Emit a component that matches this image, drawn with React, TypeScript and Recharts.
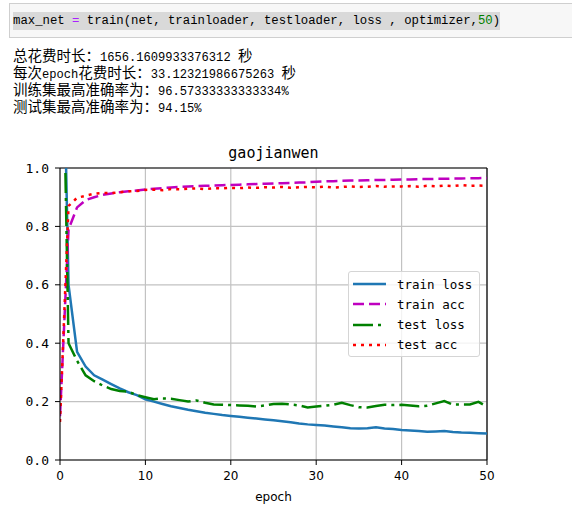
import React from 'react';
import { LineChart, Line, XAxis, YAxis, CartesianGrid, ReferenceLine } from 'recharts';

document.body.style.margin = '0';

const epochs = [
  0, 1, 2, 3, 4, 5, 6, 7, 8, 9, 10, 11, 12, 13, 14, 15, 16, 17, 18, 19, 20, 21, 22, 23, 24, 25,
  26, 27, 28, 29, 30, 31, 32, 33, 34, 35, 36, 37, 38, 39, 40, 41, 42, 43, 44, 45, 46, 47, 48, 49, 50,
];

const trainLoss = [
  2.0, 0.6, 0.37, 0.32, 0.29, 0.275, 0.26, 0.245, 0.232, 0.222, 0.208, 0.2, 0.192, 0.184, 0.178,
  0.172, 0.167, 0.162, 0.158, 0.154, 0.151, 0.148, 0.145, 0.142, 0.139, 0.136, 0.133, 0.129, 0.125,
  0.122, 0.12, 0.118, 0.115, 0.112, 0.109, 0.108, 0.109, 0.112, 0.108, 0.106, 0.103, 0.101, 0.099,
  0.097, 0.098, 0.099, 0.096, 0.094, 0.093, 0.092, 0.091,
];

const trainAcc = [
  0.15, 0.79, 0.865, 0.89, 0.9, 0.908, 0.913, 0.917, 0.92, 0.923, 0.926, 0.929, 0.931, 0.933, 0.935,
  0.937, 0.938, 0.939, 0.94, 0.941, 0.942, 0.943, 0.944, 0.945, 0.946, 0.947, 0.948, 0.949, 0.95,
  0.951, 0.953, 0.954, 0.955, 0.956, 0.957, 0.957, 0.958, 0.959, 0.959, 0.96, 0.961, 0.961, 0.962,
  0.962, 0.963, 0.963, 0.964, 0.964, 0.965, 0.965, 0.966,
];

const testLoss = [
  2.0, 0.4, 0.34, 0.29, 0.27, 0.255, 0.243, 0.236, 0.234, 0.222, 0.215, 0.208, 0.211, 0.21, 0.205,
  0.2, 0.204, 0.196, 0.19, 0.189, 0.188, 0.187, 0.186, 0.183, 0.187, 0.192, 0.193, 0.19, 0.187,
  0.18, 0.183, 0.186, 0.189, 0.196, 0.188, 0.181, 0.18, 0.185, 0.189, 0.188, 0.189, 0.187, 0.184,
  0.186, 0.194, 0.202, 0.19, 0.19, 0.19, 0.199, 0.183,
];

const testAcc = [
  0.13, 0.87, 0.898, 0.905, 0.912, 0.915, 0.914, 0.917, 0.92, 0.921, 0.925, 0.926, 0.924, 0.928,
  0.927, 0.929, 0.93, 0.928, 0.931, 0.93, 0.932, 0.931, 0.933, 0.932, 0.934, 0.933, 0.935, 0.932,
  0.934, 0.935, 0.934, 0.936, 0.933, 0.935, 0.937, 0.935, 0.936, 0.938, 0.936, 0.937, 0.937, 0.938,
  0.936, 0.939, 0.937, 0.94, 0.938, 0.9415, 0.939, 0.94, 0.939,
];

const xTicks = [0, 10, 20, 30, 40, 50];
const yTicks = [0, 0.2, 0.4, 0.6, 0.8, 1.0];

const codeLine = 'max_net = train(net, trainloader, testloader, loss , optimizer,50)';
const outputLines = [
  '总花费时长：1656.1609933376312 秒',
  '每次epoch花费时长：33.12321986675263 秒',
  '训练集最高准确率为：96.57333333333334%',
  '测试集最高准确率为：94.15%',
];

const series = [
  { key: 'trainLoss', name: 'train loss', color: '#1f77b4', dash: undefined },
  { key: 'trainAcc', name: 'train acc', color: '#bf00bf', dash: '11 5' },
  { key: 'testLoss', name: 'test loss', color: '#008000', dash: '20 5 3 5' },
  { key: 'testAcc', name: 'test acc', color: '#ff0000', dash: '3 5' },
];

const rows = epochs.map((e, i) => ({
  epoch: e,
  trainLoss: trainLoss[i],
  trainAcc: trainAcc[i],
  testLoss: testLoss[i],
  testAcc: testAcc[i],
}));

const CJK = /[\u3000-\u303f\u4e00-\u9fff\uff00-\uffef]/;

// split a printed line into CJK / ASCII runs so each gets its own font
const Mixed = ({ text }: { text: string }) => {
  const parts = text.split(/([\u3000-\u303f\u4e00-\u9fff\uff00-\uffef]+)/).filter((p) => p);
  return (
    <>
      {parts.map((p, i) =>
        CJK.test(p) ? (
          <span key={i} style={{ fontFamily: '"Noto Sans CJK SC"', fontSize: 14.5, lineHeight: '17px' }}>{p}</span>
        ) : (
          <span key={i} style={{ fontFamily: '"Liberation Mono"', fontSize: 12.1, lineHeight: '17px' }}>{p}</span>
        )
      )}
    </>
  );
};

const CodeText = () => {
  const eq = codeLine.indexOf('=');
  const num = codeLine.lastIndexOf('50');
  return (
    <span style={{ background: '#d9d9d9', padding: '2px 0' }}>
      {codeLine.slice(0, eq)}
      <span style={{ color: '#aa22ff' }}>=</span>
      {codeLine.slice(eq + 1, num)}
      <span style={{ color: '#008000' }}>50</span>
      {codeLine.slice(num + 2)}
    </span>
  );
};

export default function App() {
  return (
    <div style={{ position: 'relative', width: 572, height: 510, background: '#fff', overflow: 'hidden' }}>
      {/* code cell */}
      <div
        style={{
          position: 'absolute',
          left: 9,
          top: 3,
          width: 570,
          height: 33,
          background: '#f7f7f7',
          border: '1px solid #cfcfcf',
        }}
      />
      <div
        style={{
          position: 'absolute',
          left: 13,
          top: 12,
          height: 18,
          lineHeight: '18px',
          whiteSpace: 'pre',
          fontFamily: '"Liberation Mono"',
          fontSize: 12.3,
          color: '#000',
        }}
      >
        <CodeText />
      </div>

      {/* printed output */}
      <div style={{ position: 'absolute', left: 13, top: 46, lineHeight: '17px', whiteSpace: 'pre', color: '#000' }}>
        {outputLines.map((l, i) => (
          <div key={i} style={{ height: 17 }}>
            <Mixed text={l} />
          </div>
        ))}
      </div>

      {/* title */}
      <div
        style={{
          position: 'absolute',
          left: 60,
          width: 427,
          top: 143,
          textAlign: 'center',
          fontFamily: '"DejaVu Sans Mono"',
          fontSize: 15,
          lineHeight: '20px',
          color: '#000',
        }}
      >
        gaojianwen
      </div>

      <div style={{ position: 'absolute', left: 0, top: 130 }}>
        <LineChart width={572} height={380} data={rows} margin={{ top: 38, right: 85, bottom: 0, left: 0 }}>
          <CartesianGrid stroke="#c2c2c2" strokeWidth={1.2} />
          <XAxis
            dataKey="epoch"
            type="number"
            domain={[0, 50]}
            ticks={xTicks}
            interval={0}
            allowDataOverflow
            height={50}
            tickSize={5}
            tickMargin={6}
            stroke="#000"
            tick={{ fill: '#000', fontSize: 12, fontFamily: '"DejaVu Sans"' }}
            label={{ value: 'epoch', position: 'insideBottom', offset: 9, fill: '#000', fontSize: 12, fontFamily: '"DejaVu Sans"' }}
          />
          <YAxis
            type="number"
            domain={[0, 1]}
            ticks={yTicks}
            interval={0}
            allowDataOverflow
            width={60}
            tickSize={5}
            tickMargin={6}
            stroke="#000"
            tickFormatter={(v: number) => v.toFixed(1)}
            tick={{ fill: '#000', fontSize: 13, fontFamily: '"DejaVu Sans Mono"' }}
          />
          <ReferenceLine y={1} stroke="#000" strokeWidth={1.2} />
          <ReferenceLine x={50} stroke="#000" strokeWidth={1.2} />
          {series.map((s) => (
            <Line
              key={s.key}
              type="linear"
              dataKey={s.key}
              name={s.name}
              stroke={s.color}
              strokeWidth={2.5}
              strokeDasharray={s.dash}
              dot={false}
              activeDot={false}
              isAnimationActive={false}
            />
          ))}
        </LineChart>
      </div>

      {/* legend */}
      <div
        style={{
          position: 'absolute',
          left: 348,
          top: 271,
          width: 130,
          height: 84,
          border: '1px solid #d5d5d5',
          borderRadius: 3,
          background: 'rgba(255,255,255,0.8)',
        }}
      >
        {series.map((s, i) => (
          <div
            key={s.key}
            style={{ position: 'absolute', left: 0, top: 2 + i * 20.3, height: 20, width: 130, display: 'flex', alignItems: 'center' }}
          >
            <svg width={40} height={20} style={{ marginLeft: 4 }}>
              <line x1={0} y1={10} x2={33} y2={10} stroke={s.color} strokeWidth={2.5} strokeDasharray={s.dash} />
            </svg>
            <span style={{ marginLeft: 4, fontFamily: '"DejaVu Sans Mono"', fontSize: 12.5, color: '#000', whiteSpace: 'pre' }}>
              {s.name}
            </span>
          </div>
        ))}
      </div>
    </div>
  );
}
